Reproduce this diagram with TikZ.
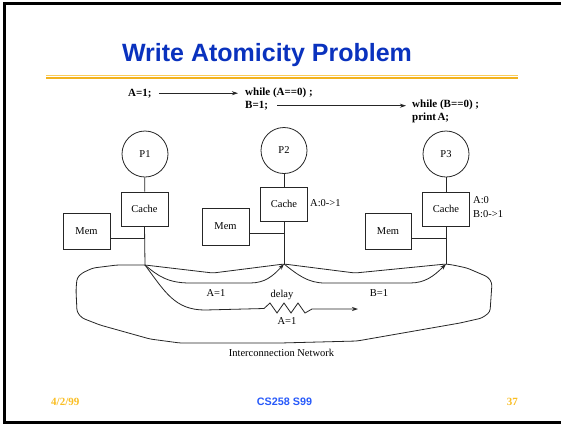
\documentclass[tikz,border=0pt]{standalone}
\usepackage{fontspec}
\setmainfont{Liberation Serif}
\newfontfamily\headfont{Liberation Sans}
\usetikzlibrary{arrows.meta}

\definecolor{titleblue}{RGB}{10,50,190}
\definecolor{footblue}{RGB}{40,90,250}
\definecolor{rulelight}{RGB}{250,205,90}
\definecolor{ruledark}{RGB}{242,178,30}
\definecolor{footorange}{RGB}{250,190,35}

\tikzset{
  wire/.style={line width=0.8pt, draw=black!85},
  arr/.style={wire, -{Stealth[length=6pt,width=4pt]}},
  box/.style={draw=black!85, line width=0.8pt, inner sep=0pt,
    font=\fontsize{10.5}{12}\selectfont},
  proc/.style={draw=black!85, line width=0.8pt, circle, minimum size=46pt,
    inner sep=0pt, font=\fontsize{10.5}{12}\selectfont},
  lbl/.style={inner sep=0pt, font=\fontsize{10.5}{12}\selectfont},
  code/.style={inner sep=0pt, anchor=base west,
    font=\fontsize{11}{12}\selectfont\bfseries},
}

\begin{document}
\begin{tikzpicture}[x=1pt, y=-1pt]
\useasboundingbox (0,0) rectangle (561,424);
\fill[white] (0,0) rectangle (561,424);

% slide frame
\draw[line width=2.7pt, black] (4.5,3.2) rectangle (566,422.7);

% heading and rule
\node[anchor=base, inner sep=0pt, text=titleblue,
  font=\headfont\bfseries\fontsize{25}{28}\selectfont] (title) at (267,61)
  {Write Atomicity Problem};
\draw[rulelight, line width=1.3pt] (46,75.2) -- (518,75.2);
\draw[ruledark, line width=1.8pt] (46,77.8) -- (518,77.8);

% program order
\node[code] (a1) at (128,96) {A=1;};
\node[code] (wa) at (245,95) {while (A==0) ;};
\node[code] (b1) at (245,108.5) {B=1;};
\node[code] (wb) at (412,107.5) {while (B==0) ;};
\node[code] (pa) at (412,120) {print\hspace{1.5pt}A;};
\draw[arr] ([xshift=7pt]a1.east) -- ([xshift=-7pt]wa.west |- a1.east);
\draw[arr] ([xshift=9pt]b1.east) -- ([xshift=-6pt]wb.west |- b1.east);

% processor 1
\node[proc] (p1) at (145,154) {P1};
\node[box, minimum width=47pt, minimum height=34pt] (c1) at (144.5,209) {Cache};
\node[box, minimum width=47pt, minimum height=36pt] (m1) at (86.5,231) {Mem};
\coordinate (t1) at (145,238);
\coordinate (j1) at (145,265);
\draw[wire] (p1) -- (c1);
\draw[wire] (c1.south) -- (j1);
\draw[wire] (m1.east |- t1) -- (t1);

% processor 2
\node[proc] (p2) at (284,150.5) {P2};
\node[box, minimum width=47pt, minimum height=34pt] (c2) at (284,204) {Cache};
\node[box, minimum width=47pt, minimum height=37pt] (m2) at (225.5,226.5) {Mem};
\node[lbl, anchor=west] (s2) at (310,203) {A:0->1};
\coordinate (t2) at (284,233);
\coordinate (j2) at (284,264);
\draw[wire] (p2) -- (c2);
\draw[wire] (c2.south) -- (j2);
\draw[wire] (m2.east |- t2) -- (t2);

% processor 3
\node[proc] (p3) at (446,154) {P3};
\node[box, minimum width=47pt, minimum height=34pt] (c3) at (446,209) {Cache};
\node[box, minimum width=46pt, minimum height=36pt] (m3) at (388,231) {Mem};
\node[lbl, anchor=west] (s3a) at (473,200) {A:0};
\node[lbl, anchor=west] (s3b) at (473,214) {B:0->1};
\coordinate (t3) at (446,238);
\coordinate (j3) at (446,264);
\draw[wire] (p3) -- (c3);
\draw[wire] (c3.south) -- (j3);
\draw[wire] (m3.east |- t3) -- (t3);

% interconnection network outline
\draw[wire, rounded corners=3pt]
  (j1) -- (213,273) -- (j2) -- (355,273) -- (j3) -- (453,265) -- (467,268)
  -- (488,277) -- (492,283) -- (490,312) -- (482,318) -- (460,323)
  -- (420,330) -- (357,341) -- (280,343) -- (180,343) -- (150,339)
  -- (100,325) -- (82,318) -- (77,312) -- (76,290) -- (77,278)
  -- (82,273) -- (93,268) -- (117,265) -- cycle;
\node[lbl] (net) at (281.5,353) {Interconnection Network};

% update of A reaching P2
\draw[arr] (j1) .. controls (158,276) and (168,283) .. (190,283)
  -- (250,283) .. controls (265,283) and (273,276) .. (j2);
\node[lbl] (ua) at (216,293.5) {A=1};

% update of B reaching P3
\draw[arr] (j2) .. controls (298,275) and (308,283) .. (325,283)
  -- (410,283) .. controls (425,283) and (434,276) .. (j3);
\node[lbl] (ub) at (379,293.5) {B=1};

% delayed update of A on its way to P3
\coordinate (dend) at (358,309);
\draw[arr] (j1) .. controls (165,292) and (175,310) .. (205,310)
  -- (264,308.5) -- (270,303) -- (277,313) -- (284,303) -- (291,313)
  -- (298,303) -- (305,313) -- (312,309) -- (dend);
\node[lbl] (dl) at (282,295) {delay};
\node[lbl] (ud) at (287,321.5) {A=1};

% footer
\node[anchor=base west, inner sep=0pt, text=footorange,
  font=\bfseries\fontsize{11}{12}\selectfont] (date) at (51,405) {4/2/99};
\node[anchor=base, inner sep=0pt, text=footblue,
  font=\headfont\bfseries\fontsize{10.8}{12}\selectfont] (course) at (284.5,405) {CS258 S99};
\node[anchor=base east, inner sep=0pt, text=footorange,
  font=\bfseries\fontsize{11}{12}\selectfont] (page) at (518,405) {37};
\end{tikzpicture}
\end{document}
